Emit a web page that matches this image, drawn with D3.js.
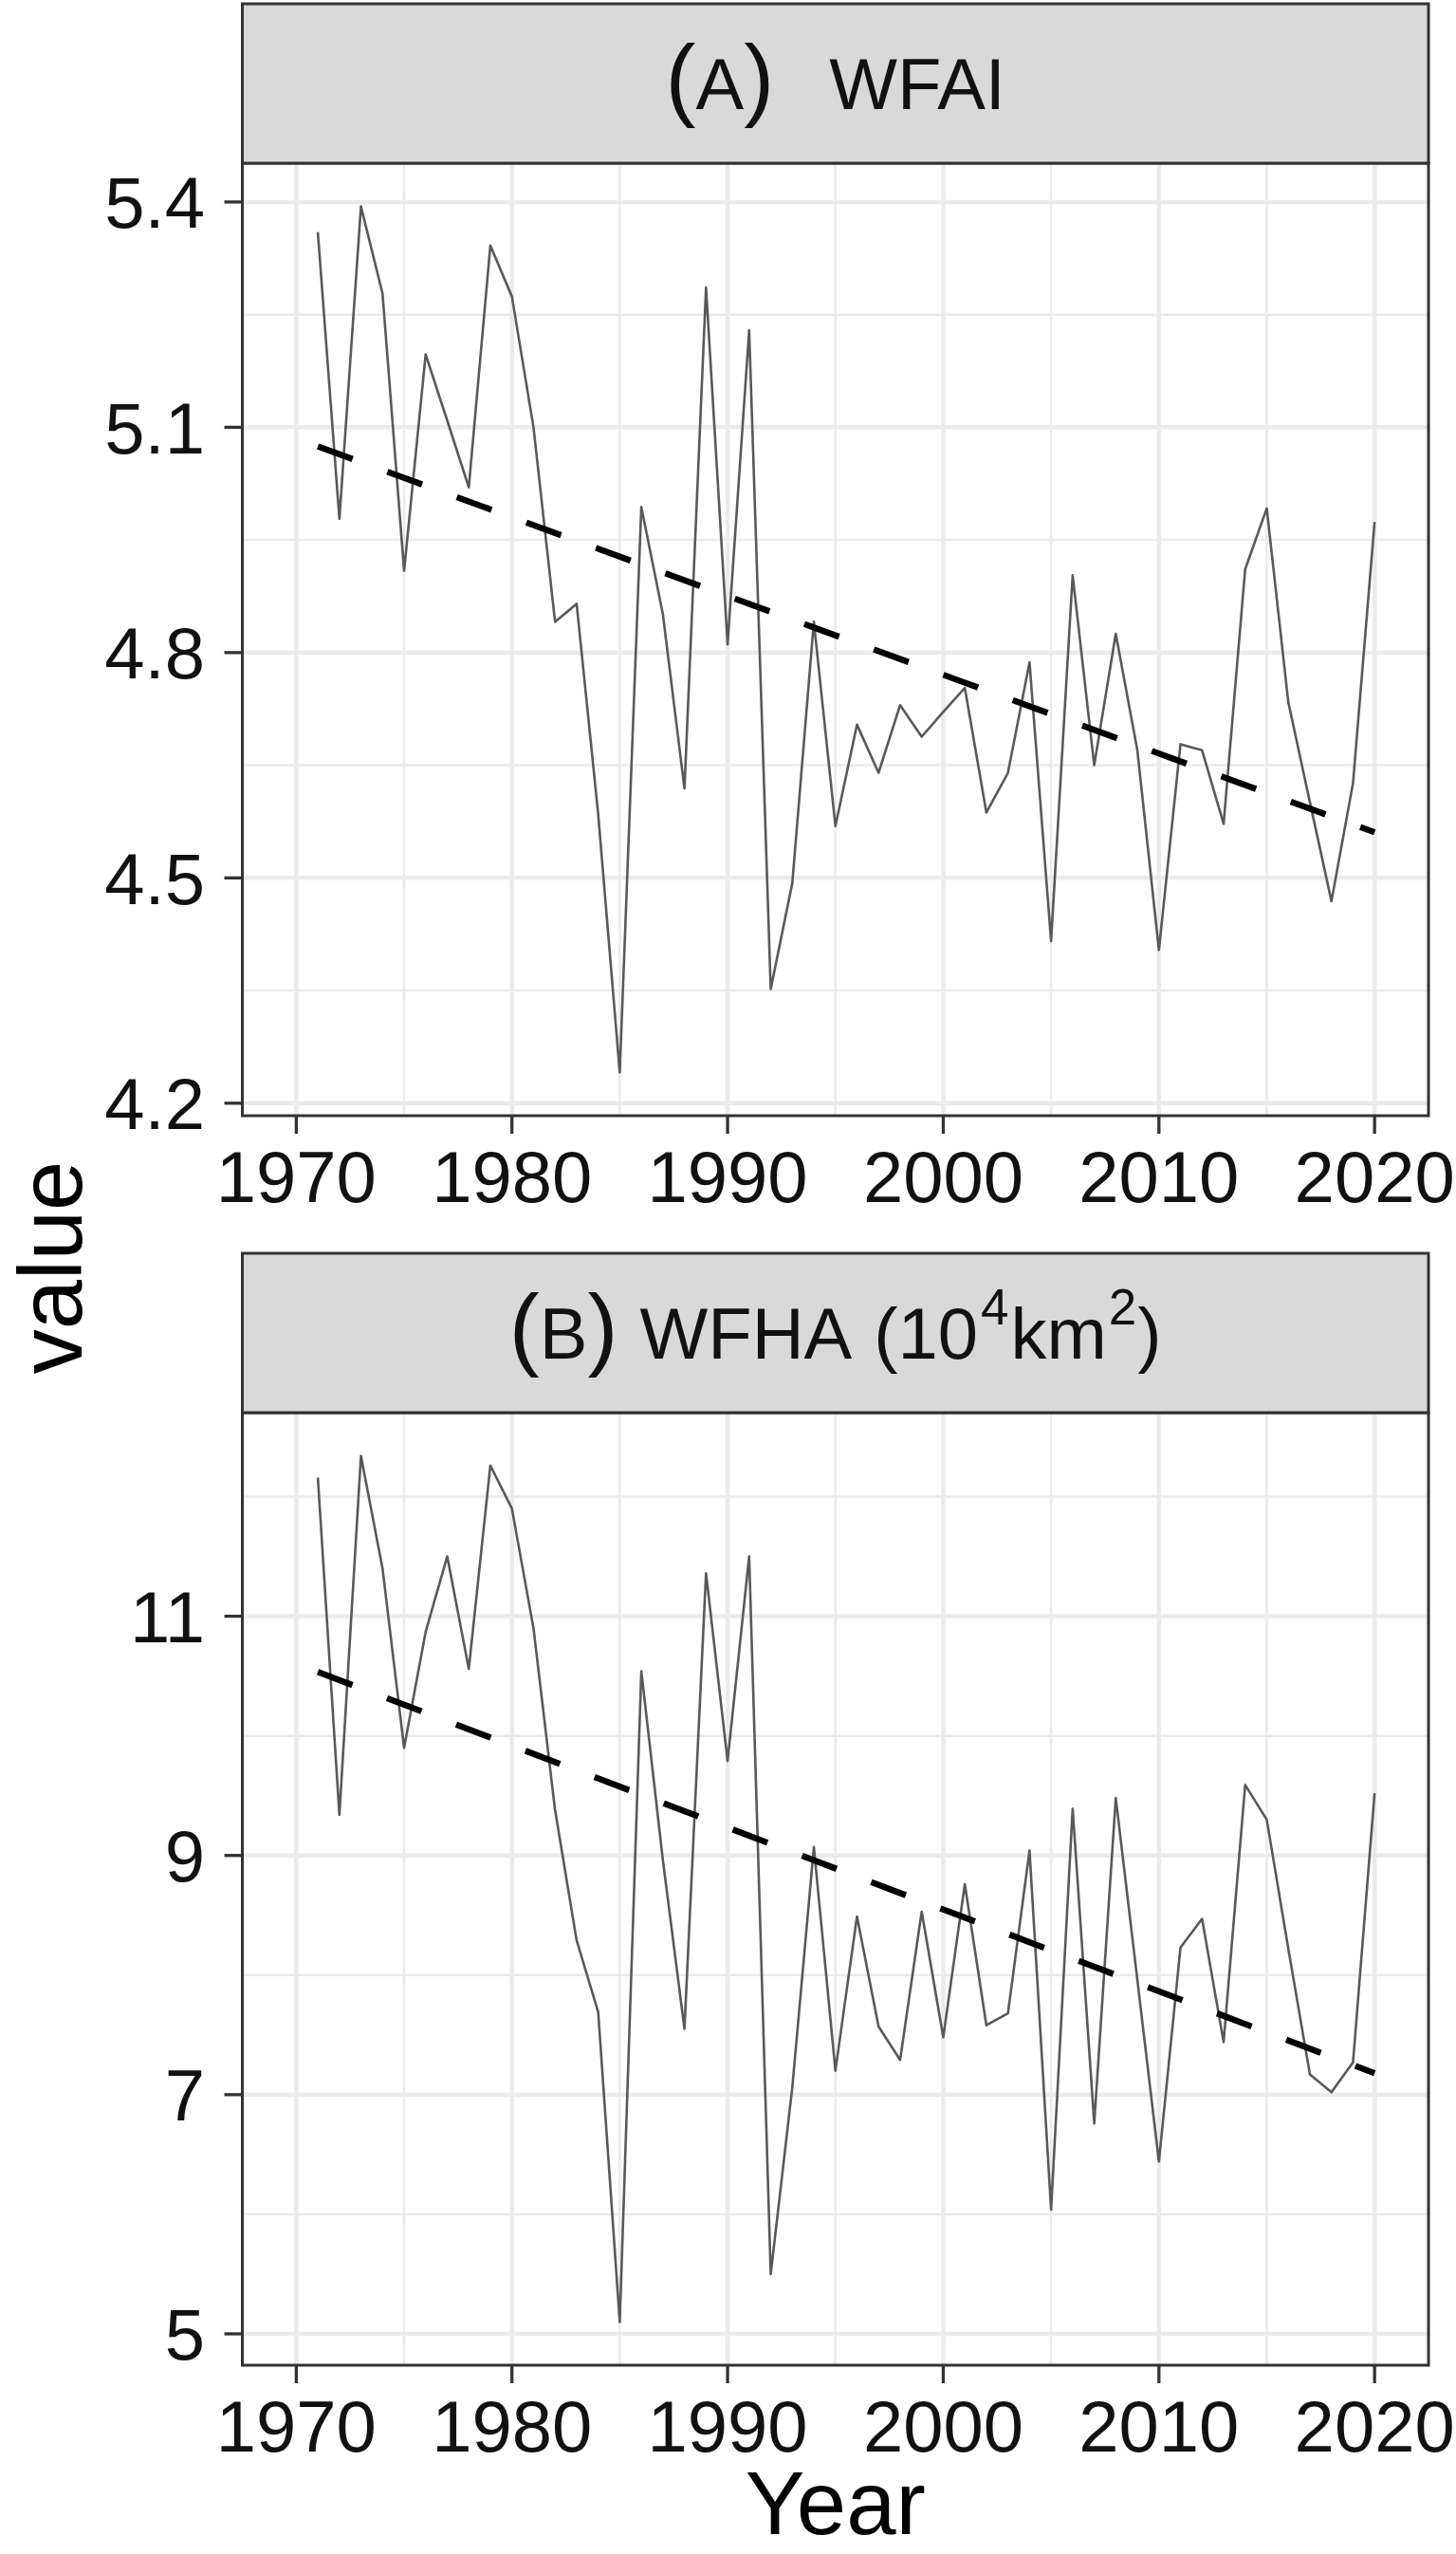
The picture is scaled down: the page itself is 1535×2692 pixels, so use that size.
<!DOCTYPE html>
<html>
<head>
<meta charset="utf-8">
<script src="https://cdn.jsdelivr.net/npm/d3@7/dist/d3.min.js"></script>
<style>
  html, body { margin: 0; padding: 0; background: #fff; }
  svg { display: block; font-family: "Liberation Sans", Arial, sans-serif; }
</style>
</head>
<body>
<script>
// yearly series
var years = [1971, 1972, 1973, 1974, 1975, 1976, 1977, 1978, 1979, 1980,
             1981, 1982, 1983, 1984, 1985, 1986, 1987, 1988, 1989, 1990,
             1991, 1992, 1993, 1994, 1995, 1996, 1997, 1998, 1999, 2000,
             2001, 2002, 2003, 2004, 2005, 2006, 2007, 2008, 2009, 2010,
             2011, 2012, 2013, 2014, 2015, 2016, 2017, 2018, 2019, 2020];

var wfai = [5.360, 4.978, 5.394, 5.278, 4.909, 5.197, 5.109, 5.020, 5.342, 5.274,
            5.100, 4.841, 4.865, 4.585, 4.241, 4.994, 4.851, 4.619, 5.286, 4.811,
            5.229, 4.352, 4.493, 4.841, 4.569, 4.704, 4.640, 4.730, 4.688, 4.721,
            4.753, 4.587, 4.640, 4.787, 4.416, 4.903, 4.650, 4.825, 4.670, 4.404,
            4.678, 4.670, 4.572, 4.911, 4.992, 4.734, 4.601, 4.469, 4.626, 4.974];

var wfha = [12.16, 9.34, 12.34, 11.40, 9.90, 10.87, 11.50, 10.56, 12.26, 11.90,
            10.90, 9.38, 8.29, 7.69, 5.10, 10.54, 8.96, 7.55, 11.36, 9.79,
            11.50, 5.50, 7.06, 9.07, 7.20, 8.49, 7.57, 7.29, 8.53, 7.48,
            8.76, 7.58, 7.68, 9.04, 6.04, 9.39, 6.76, 9.48, 7.96, 6.44,
            8.23, 8.47, 7.44, 9.59, 9.30, 8.22, 7.17, 7.02, 7.27, 9.52];

var yearTicks = [1970, 1980, 1990, 2000, 2010, 2020];
var yearMinor = [1975, 1985, 1995, 2005, 2015];
var wfaiTicks = [4.2, 4.5, 4.8, 5.1, 5.4];
var wfaiMinor = [4.35, 4.65, 4.95, 5.25];
var wfhaTicks = [5, 7, 9, 11];
var wfhaMinor = [6, 8, 10, 12];

var W = 1535, H = 2692;
var left = 255.5, right = 1506;
var stripH = 168, panelH = 1004;
var ink = "#333333";

var svg = d3.select("body").append("svg")
    .attr("width", W)
    .attr("height", H)
    .attr("viewBox", "0 0 " + W + " " + H);

// x axis is shared: ggplot style 5% expansion around the tick span
var xLo = d3.min(yearTicks), xHi = d3.max(yearTicks), xPad = (xHi - xLo) * 0.05;
var x = d3.scaleLinear().domain([xLo - xPad, xHi + xPad]).range([left, right]);

function fit(xs, ys) {
    var mx = d3.mean(xs), my = d3.mean(ys), sxy = 0, sxx = 0;
    xs.forEach(function (v, i) {
        sxy += (v - mx) * (ys[i] - my);
        sxx += (v - mx) * (v - mx);
    });
    var b = sxy / sxx;
    return function (v) { return my + b * (v - mx); };
}

var panels = [
    {values: wfai, ticks: wfaiTicks, minor: wfaiMinor, fmt: d3.format(".1f"), stripTop: 4,
     label: [["(", 96, 0, 0], ["A", 76, 0, 0], [")", 96, 0, 0], ["WFAI", 76, 58, 0]]},
    {values: wfha, ticks: wfhaTicks, minor: wfhaMinor, fmt: d3.format("d"), stripTop: 1321,
     label: [["(", 96, 0, 0], ["B", 76, 0, 0], [")", 96, 0, 0], ["WFHA", 76, 23, 0],
             ["(10", 76, 23, 0], ["4", 53, 3, -36], ["km", 76, 2, 36], ["2", 53, 2, -36], [")", 76, 1, 36]]}
];

panels.forEach(function (p) {
    var top = p.stripTop + stripH, bottom = top + panelH;
    var ext = d3.extent(p.values), pad = (ext[1] - ext[0]) * 0.05;
    var y = d3.scaleLinear().domain([ext[0] - pad, ext[1] + pad]).range([bottom, top]);
    var g = svg.append("g");

    g.append("rect").attr("x", left).attr("y", top)
        .attr("width", right - left).attr("height", panelH).attr("fill", "#fff");

    // grid
    g.selectAll(".hmin").data(p.minor).enter().append("line")
        .attr("x1", left).attr("x2", right)
        .attr("y1", function (d) { return y(d); }).attr("y2", function (d) { return y(d); })
        .attr("stroke", "#EBEBEB").attr("stroke-width", 2.5);
    g.selectAll(".vmin").data(yearMinor).enter().append("line")
        .attr("y1", top).attr("y2", bottom)
        .attr("x1", function (d) { return x(d); }).attr("x2", function (d) { return x(d); })
        .attr("stroke", "#EBEBEB").attr("stroke-width", 2.5);
    g.selectAll(".hmaj").data(p.ticks).enter().append("line")
        .attr("x1", left).attr("x2", right)
        .attr("y1", function (d) { return y(d); }).attr("y2", function (d) { return y(d); })
        .attr("stroke", "#EBEBEB").attr("stroke-width", 4.5);
    g.selectAll(".vmaj").data(yearTicks).enter().append("line")
        .attr("y1", top).attr("y2", bottom)
        .attr("x1", function (d) { return x(d); }).attr("x2", function (d) { return x(d); })
        .attr("stroke", "#EBEBEB").attr("stroke-width", 4.5);

    // series
    var line = d3.line()
        .x(function (d, i) { return x(years[i]); })
        .y(function (d) { return y(d); });
    g.append("path").datum(p.values)
        .attr("d", line)
        .attr("fill", "none")
        .attr("stroke", "#595959")
        .attr("stroke-width", 2.6)
        .attr("stroke-linejoin", "round");

    // linear trend
    var f = fit(years, p.values);
    var ends = [years[0], years[years.length - 1]];
    g.append("line")
        .attr("x1", x(ends[0])).attr("y1", y(f(ends[0])))
        .attr("x2", x(ends[1])).attr("y2", y(f(ends[1])))
        .attr("stroke", "#000").attr("stroke-width", 6.5)
        .attr("stroke-dasharray", "39,39");

    g.append("rect").attr("x", left).attr("y", top)
        .attr("width", right - left).attr("height", panelH)
        .attr("fill", "none").attr("stroke", ink).attr("stroke-width", 3);

    // strip
    g.append("rect").attr("x", left).attr("y", p.stripTop)
        .attr("width", right - left).attr("height", stripH)
        .attr("fill", "#D9D9D9").attr("stroke", ink).attr("stroke-width", 3);
    var baseY = p.stripTop + stripH / 2 + 27;
    var t = g.append("text")
        .attr("x", (left + right) / 2).attr("y", baseY)
        .attr("text-anchor", "middle").attr("fill", "#111");
    p.label.forEach(function (s) {
        t.append("tspan").attr("font-size", s[1]).attr("dx", s[2]).attr("dy", s[3]).text(s[0]);
    });

    // y axis
    g.selectAll(".yt").data(p.ticks).enter().append("line")
        .attr("x1", left - 19).attr("x2", left)
        .attr("y1", function (d) { return y(d); }).attr("y2", function (d) { return y(d); })
        .attr("stroke", ink).attr("stroke-width", 3.3);
    g.selectAll(".yl").data(p.ticks).enter().append("text")
        .attr("x", 216).attr("y", function (d) { return y(d); })
        .attr("dy", "0.36em").attr("text-anchor", "end")
        .attr("font-size", 76).attr("fill", "#111")
        .text(p.fmt);

    // x axis
    g.selectAll(".xt").data(yearTicks).enter().append("line")
        .attr("y1", bottom).attr("y2", bottom + 19)
        .attr("x1", function (d) { return x(d); }).attr("x2", function (d) { return x(d); })
        .attr("stroke", ink).attr("stroke-width", 3.3);
    g.selectAll(".xl").data(yearTicks).enter().append("text")
        .attr("x", function (d) { return x(d); }).attr("y", bottom + 91)
        .attr("text-anchor", "middle")
        .attr("font-size", 76).attr("fill", "#111")
        .text(function (d) { return d; });
});

svg.append("text")
    .attr("transform", "translate(86,1336) rotate(-90)")
    .attr("text-anchor", "middle")
    .attr("font-size", 94).attr("fill", "#000")
    .text("value");

svg.append("text")
    .attr("x", (left + right) / 2).attr("y", 2671)
    .attr("text-anchor", "middle")
    .attr("font-size", 94).attr("fill", "#000")
    .text("Year");
</script>
</body>
</html>
